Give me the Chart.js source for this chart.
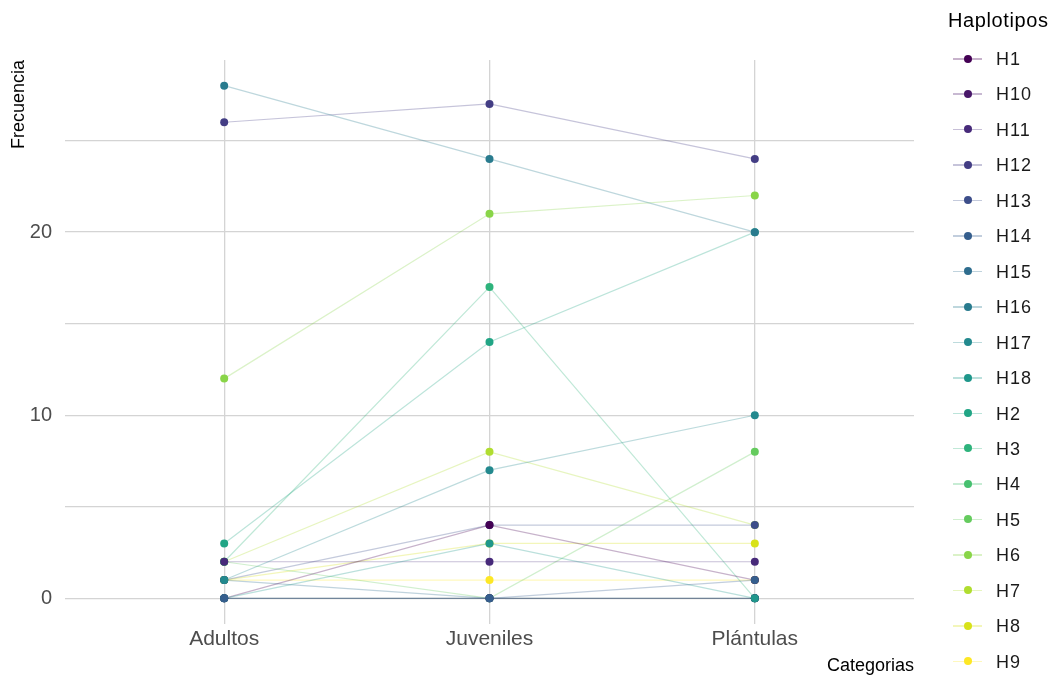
<!DOCTYPE html>
<html>
<head>
<meta charset="utf-8">
<script src="https://cdn.jsdelivr.net/npm/chart.js@4.4.1/dist/chart.umd.min.js"></script>
<style>
  html, body { margin: 0; padding: 0; background: #ffffff; }
  #wrap { position: relative; width: 1057px; height: 679px; overflow: hidden;
          font-family: "Liberation Sans", Arial, sans-serif; }
  #c { position: absolute; left: 0; top: 0; }
  #legend { position: absolute; left: 0; top: 0; width: 1057px; height: 679px; pointer-events: none; }
  .lg-title { position: absolute; left: 948px; top: 8px; font-size: 20px; line-height: 24px; color: #000;
              white-space: nowrap; letter-spacing: 0.6px; }
  .lg-row { position: absolute; left: 953px; height: 24px; white-space: nowrap; }
  .lg-key { position: absolute; left: 0; top: 0; width: 29px; height: 24px; }
  .lg-line { position: absolute; left: 0; top: 11px; width: 29px; height: 1.5px; }
  .lg-dot { position: absolute; left: 10.5px; top: 7.5px; width: 8px; height: 8px; border-radius: 50%; }
  .lg-text { position: absolute; left: 43px; top: 0; font-size: 18px; line-height: 24px; color: #1a1a1a;
             letter-spacing: 1px; }
</style>
</head>
<body>
<div id="wrap">
  <canvas id="c" width="1057" height="679"></canvas>
  <div id="legend"></div>
</div>
<script>
// Categories along the x axis
const categories = ['Adultos', 'Juveniles', 'Plántulas'];

// Haplotype names, in legend order
const haplotypes = ['H1', 'H10', 'H11', 'H12', 'H13', 'H14', 'H15', 'H16', 'H17',
                    'H18', 'H2', 'H3', 'H4', 'H5', 'H6', 'H7', 'H8', 'H9'];

// Frequency of each haplotype per category (Adultos, Juveniles, Plántulas)
const H1  = [0, 4, 1];
const H10 = [0, 0, 0];
const H11 = [2, 2, 2];
const H12 = [26, 27, 24];
const H13 = [1, 4, 4];
const H14 = [0, 0, 1];
const H15 = [1, 0, 0];
const H16 = [28, 24, 20];
const H17 = [1, 7, 10];
const H18 = [0, 3, 0];
const H2  = [3, 14, 20];
const H3  = [2, 17, 0];
const H4  = [0, 0, 0];
const H5  = [2, 0, 8];
const H6  = [12, 21, 22];
const H7  = [2, 8, 4];
const H8  = [1, 3, 3];
const H9  = [1, 1, 1];

// Labelled y ticks and all grid positions
const yTickLabels = [0, 10, 20];
const yGridValues = [0, 5, 10, 15, 20, 25];

const seriesValues = { H1, H10, H11, H12, H13, H14, H15, H16, H17, H18,
                       H2, H3, H4, H5, H6, H7, H8, H9 };

// viridis palette, one colour per haplotype
const palette = ['#440154', '#481769', '#472A7A', '#433D84', '#3D4E8A', '#355E8D',
                 '#2E6D8E', '#297B8E', '#23898E', '#1F978B', '#21A585', '#2EB37C',
                 '#46C06F', '#65CB5E', '#89D548', '#B0DD2F', '#D8E219', '#FDE725'];

// Series drawn on top of the others where points overlap (first = topmost)
const onTop = ['H14', 'H18', 'H17', 'H16', 'H1', 'H11', 'H13'];

function withAlpha(hex, a) {
  const n = parseInt(hex.slice(1), 16);
  return `rgba(${(n >> 16) & 255}, ${(n >> 8) & 255}, ${n & 255}, ${a})`;
}

const datasets = haplotypes.map((name, i) => {
  const rank = onTop.indexOf(name);
  return {
    label: name,
    data: seriesValues[name].map((v, k) => ({ x: k + 1, y: v })),
    showLine: true,
    borderColor: withAlpha(palette[i], 0.3),
    borderWidth: 1.2,
    pointRadius: 4,
    pointHoverRadius: 4,
    pointBorderWidth: 0,
    pointBackgroundColor: palette[i],
    order: rank >= 0 ? rank : 20 + i
  };
});

const fontFamily = '"Liberation Sans", Arial, sans-serif';

new Chart(document.getElementById('c'), {
  type: 'scatter',
  data: { datasets },
  options: {
    responsive: false,
    animation: false,
    events: [],
    layout: { padding: { top: 60, right: 143, left: 0, bottom: 0 } },
    plugins: { legend: { display: false }, tooltip: { enabled: false } },
    scales: {
      x: {
        type: 'linear',
        min: 0.4,
        max: 3.6,
        afterBuildTicks: s => { s.ticks = categories.map((c, i) => ({ value: i + 1 })); },
        afterFit: s => { s.height = 55; },
        ticks: {
          callback: v => categories[v - 1],
          font: { family: fontFamily, size: 21 },
          color: '#4d4d4d',
          padding: 3,
          maxRotation: 0
        },
        grid: { color: '#d4d4d4', lineWidth: 1.3, drawTicks: false },
        border: { display: false },
        title: {
          display: true,
          text: 'Categorias',
          align: 'end',
          font: { family: fontFamily, size: 18 },
          color: '#000',
          padding: { top: 0, bottom: 2 }
        }
      },
      y: {
        type: 'linear',
        min: -1.4,
        max: 29.4,
        afterBuildTicks: s => { s.ticks = yGridValues.map(v => ({ value: v })); },
        afterFit: s => { s.width = 65; },
        ticks: {
          callback: v => (yTickLabels.includes(v) ? String(v) : ''),
          font: { family: fontFamily, size: 20 },
          color: '#4d4d4d',
          padding: 13
        },
        grid: { color: '#d4d4d4', lineWidth: 1.3, drawTicks: false },
        border: { display: false },
        title: {
          display: true,
          text: 'Frecuencia',
          align: 'end',
          font: { family: fontFamily, size: 18 },
          color: '#000',
          padding: { top: 8, bottom: 0 }
        }
      }
    }
  }
});

// Legend built from the same series list
const legend = document.getElementById('legend');
const title = document.createElement('div');
title.className = 'lg-title';
title.textContent = 'Haplotipos';
legend.appendChild(title);
datasets.forEach((d, i) => {
  const row = document.createElement('div');
  row.className = 'lg-row';
  row.style.top = (59 + 35.45 * i - 12) + 'px';
  const key = document.createElement('div');
  key.className = 'lg-key';
  const line = document.createElement('div');
  line.className = 'lg-line';
  line.style.background = d.borderColor;
  const dot = document.createElement('div');
  dot.className = 'lg-dot';
  dot.style.background = d.pointBackgroundColor;
  key.appendChild(line);
  key.appendChild(dot);
  const text = document.createElement('div');
  text.className = 'lg-text';
  text.textContent = d.label;
  row.appendChild(key);
  row.appendChild(text);
  legend.appendChild(row);
});
</script>
</body>
</html>
